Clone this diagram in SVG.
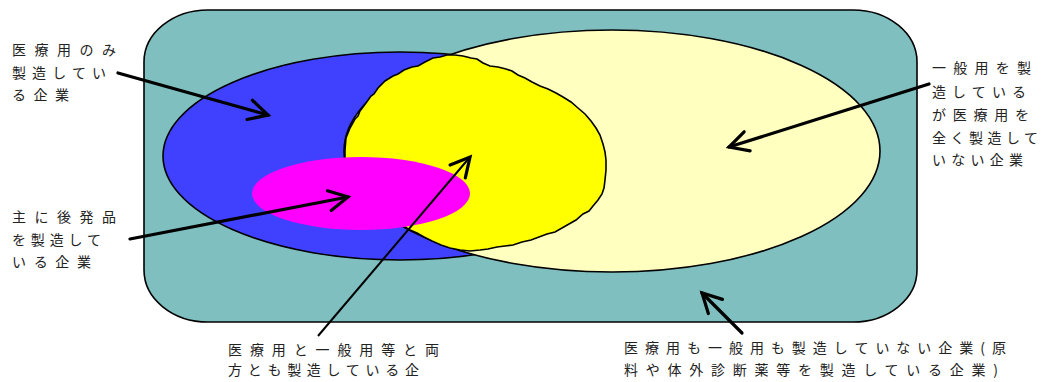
<svg xmlns="http://www.w3.org/2000/svg" width="1044" height="382" viewBox="0 0 1044 382">
<defs>
<style>
.lbl{font-family:"Noto Sans CJK JP","Noto Sans CJK SC",sans-serif;font-size:14px;fill:#222}
.ol{stroke:#000;stroke-width:1.6}
.arr{fill:none;stroke:#000;stroke-width:3.2;stroke-linecap:round;marker-end:url(#ah)}
.arrt{fill:none;stroke:#000;stroke-width:2;marker-end:url(#ah)}
</style>
<marker id="ah" viewBox="0 0 24 24" refX="21" refY="12" markerWidth="24" markerHeight="24" markerUnits="userSpaceOnUse" orient="auto" overflow="visible">
<path d="M2,2 L21,12 L2,22" fill="none" stroke="#000" stroke-width="3.2" stroke-linecap="round" stroke-linejoin="miter"/>
</marker>
</defs>
<rect width="1044" height="382" fill="#fff"/>
<g id="node-none">
<rect x="144" y="10" width="773" height="312" rx="64" ry="52" fill="#7fbfbf" class="ol"/>
</g>
<g id="node-medical-only">
<ellipse cx="400" cy="156" rx="237" ry="104" fill="#4040ff" class="ol"/>
</g>
<g id="node-general">
<ellipse cx="612" cy="151" rx="268" ry="121" fill="#ffffc0" class="ol"/>
</g>
<g id="node-both">
<path d="M345,150 L346,138 L350,128 L355,119 L358,116 L360,111 L366,103 L371,96 L374,94 L378,88 L385,81 L393,76 L398,74 L404,70 L412,67 L418,66 L425,62 L433,58 L440,57 L447,55 L455,55 L463,56 L471,58 L477,59 L483,63 L490,66 L498,67 L506,69 L512,71 L518,75 L525,78 L532,82 L540,86 L548,89 L556,93 L563,97 L571,102 L578,108 L585,114 L591,121 L596,128 L600,135 L603,144 L605,152 L606,160 L606,170 L605,180 L604,188 L602,194 L598,200 L593,206 L589,211 L583,214 L576,220 L569,224 L562,228 L555,232 L547,234 L539,237 L531,240 L522,242 L513,245 L505,246 L497,247 L488,249 L480,250 L470,251 L460,250 L450,248 L441,245 L432,241 L424,237 L417,233 L410,230 L405,227 L400,224 L345,200 Z" fill="#ffff00" class="ol"/>
</g>
<g id="node-generic">
<ellipse cx="361" cy="193.5" rx="109" ry="36.5" fill="#ff00ff"/>
</g>
<g id="connectors">
<line x1="118" y1="73" x2="268" y2="115" class="arr"/>
<line x1="130" y1="239" x2="348" y2="197" class="arr"/>
<line x1="318" y1="336" x2="470" y2="157" class="arrt"/>
<line x1="929" y1="84" x2="729" y2="147" class="arr"/>
<line x1="742" y1="333" x2="702" y2="293" class="arr"/>
</g>
<g id="labels">
<text class="lbl" x="12" y="55" textLength="104" lengthAdjust="spacing">医療用のみ</text>
<text class="lbl" x="12" y="78" textLength="94" lengthAdjust="spacing">製造してい</text>
<text class="lbl" x="12" y="100" textLength="57" lengthAdjust="spacing">る企業</text>
<text class="lbl" x="12" y="222" textLength="104" lengthAdjust="spacing">主に後発品</text>
<text class="lbl" x="12" y="245" textLength="89" lengthAdjust="spacing">を製造して</text>
<text class="lbl" x="12" y="267" textLength="79" lengthAdjust="spacing">いる企業</text>
<text class="lbl" x="932" y="73" textLength="99" lengthAdjust="spacing">一般用を製</text>
<text class="lbl" x="932" y="97" textLength="94" lengthAdjust="spacing">造している</text>
<text class="lbl" x="932" y="120" textLength="97" lengthAdjust="spacing">が医療用を</text>
<text class="lbl" x="932" y="143" textLength="106" lengthAdjust="spacing">全く製造して</text>
<text class="lbl" x="932" y="165" textLength="91" lengthAdjust="spacing">いない企業</text>
<text class="lbl" x="228" y="355" textLength="211" lengthAdjust="spacing">医療用と一般用等と両</text>
<text class="lbl" x="228" y="375" textLength="191" lengthAdjust="spacing">方とも製造している企</text>
<text class="lbl" x="624" y="353" textLength="382" lengthAdjust="spacing">医療用も一般用も製造していない企業(原</text>
<text class="lbl" x="624" y="375" textLength="374" lengthAdjust="spacing">料や体外診断薬等を製造している企業)</text>
</g>
</svg>
